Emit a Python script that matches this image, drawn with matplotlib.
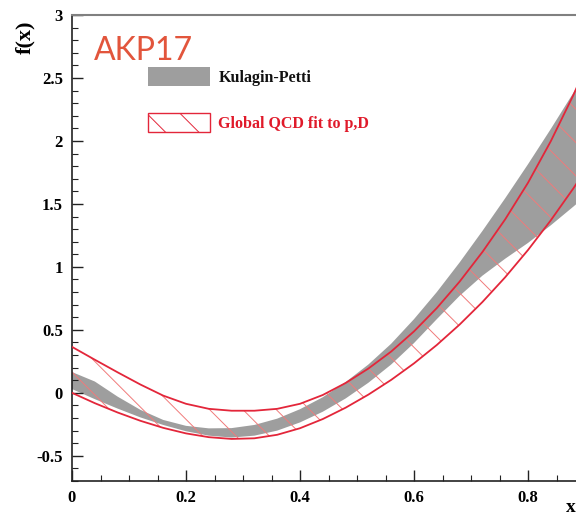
import matplotlib
matplotlib.use('Agg')
import matplotlib.pyplot as plt
from matplotlib.patches import Patch
from matplotlib.ticker import MultipleLocator

# ---- data ----
x = [0.00, 0.04, 0.08, 0.12, 0.16, 0.20, 0.24, 0.28, 0.32, 0.36, 0.40, 0.44,
     0.48, 0.52, 0.56, 0.60, 0.64, 0.68, 0.72, 0.76, 0.80, 0.84, 0.88, 0.92]
kp_hi = [0.165, 0.09, -0.03, -0.135, -0.215, -0.262, -0.282, -0.28, -0.255, -0.205, -0.13, -0.035,
         0.085, 0.225, 0.39, 0.585, 0.80, 1.035, 1.285, 1.545, 1.815, 2.095, 2.385, 2.695]
kp_lo = [0.03, -0.05, -0.125, -0.195, -0.255, -0.305, -0.34, -0.355, -0.34, -0.30, -0.235, -0.15,
         -0.045, 0.08, 0.225, 0.395, 0.585, 0.77, 0.93, 1.065, 1.19, 1.33, 1.48, 1.635]
qcd_hi = [0.365, 0.263, 0.163, 0.066, -0.022, -0.087, -0.127, -0.142, -0.142, -0.127, -0.087, -0.017,
          0.078, 0.193, 0.328, 0.488, 0.673, 0.883, 1.118, 1.378, 1.668, 1.998, 2.368, 2.778]
qcd_lo = [0.0, -0.082, -0.156, -0.222, -0.278, -0.322, -0.352, -0.366, -0.361, -0.333, -0.281, -0.208,
          -0.118, -0.014, 0.103, 0.234, 0.38, 0.542, 0.721, 0.918, 1.134, 1.37, 1.626, 1.902]

xticks = [0.0, 0.2, 0.4, 0.6, 0.8]
xticklabels = ['0', '0.2', '0.4', '0.6', '0.8']
yticks = [-0.5, 0, 0.5, 1, 1.5, 2, 2.5, 3]
yticklabels = ['-0.5', '0', '0.5', '1', '1.5', '2', '2.5', '3']
labels = ['Kulagin-Petti', 'Global QCD fit to p,D']
title_tag = 'AKP17'

GRAY = '#9e9e9e'
RED = '#e3263a'
HATCH = '#f07a7a'
SERIF = 'Liberation Serif'

plt.rcParams['hatch.linewidth'] = 0.7

W, H = 576, 517
fig = plt.figure(figsize=(W / 100, H / 100), dpi=100)
ax = fig.add_axes([72 / W, 36 / H, 504 / W, 466 / H])

ax.fill_between(x, kp_lo, kp_hi, facecolor=GRAY, edgecolor='none', lw=0, zorder=1)
ax.fill_between(x, qcd_lo, qcd_hi, facecolor='none', edgecolor=HATCH, hatch='\\',
                lw=0, zorder=2)
ax.plot(x, qcd_hi, color=RED, lw=1.3, zorder=3)
ax.plot(x, qcd_lo, color=RED, lw=1.3, zorder=3)

ax.set_xlim(0, 504 / 570)
ax.set_ylim(-0.7, 3)

ax.set_xticks(xticks)
ax.set_xticklabels(xticklabels)
ax.set_yticks(yticks)
ax.set_yticklabels(yticklabels)
ax.xaxis.set_minor_locator(MultipleLocator(0.05))
ax.yaxis.set_minor_locator(MultipleLocator(0.1))
ax.tick_params(which='both', direction='in', top=False, right=False, color='#222222')
ax.tick_params(which='major', length=8, width=1.0, pad=6.5)
ax.tick_params(which='minor', length=4, width=0.8)
for lab in ax.get_xticklabels() + ax.get_yticklabels():
    lab.set_fontfamily(SERIF)
    lab.set_fontweight('bold')
    lab.set_fontsize(12)

ax.spines['right'].set_visible(False)
ax.spines['top'].set_color('#808080')
ax.spines['top'].set_linewidth(1.5)
ax.spines['left'].set_color('#222222')
ax.spines['bottom'].set_color('#222222')
ax.spines['left'].set_linewidth(1.2)
ax.spines['bottom'].set_linewidth(1.2)

fig.text(25 / W, 1 - 37 / H, 'f(x)', rotation=90, ha='center', va='center',
         family=SERIF, weight='bold', fontsize=16)
fig.text(566 / W, 1 - 507 / H, 'x', ha='left', va='center',
         family=SERIF, weight='bold', fontsize=14)
fig.text(94 / W, 1 - 60 / H, title_tag, ha='left', va='baseline',
         family='Lato', fontsize=23, color='#e2553c')

handles = [Patch(facecolor=GRAY, edgecolor='none'),
           Patch(facecolor='white', edgecolor=RED, hatch='\\', lw=1.0)]
leg = fig.legend(handles, labels, loc='upper left',
                 bbox_to_anchor=(148 / W, 1 - 67 / H), frameon=False,
                 borderpad=0, borderaxespad=0, handlelength=3.9, handleheight=1.45,
                 handletextpad=0.5, labelspacing=1.7,
                 prop={'family': SERIF, 'weight': 'bold', 'size': 11.5})
leg.get_texts()[0].set_color('#111111')
leg.get_texts()[1].set_color('#e01a2a')

fig.savefig('out.png', dpi=100)
